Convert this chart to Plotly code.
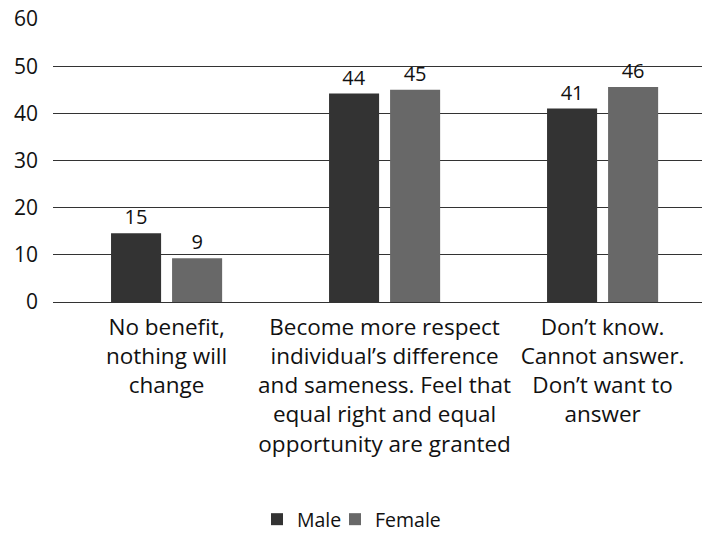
import plotly.graph_objects as go

categories = [
    "No benefit,<br>nothing will<br>change",
    "Become more respect<br>individual’s difference<br>and sameness. Feel that<br>equal right and equal<br>opportunity are granted",
    "Don’t know.<br>Cannot answer.<br>Don’t want to<br>answer",
]
male_values = [14.6, 44.2, 41.0]
female_values = [9.3, 45.0, 45.6]
male_labels = ["15", "44", "41"]
female_labels = ["9", "45", "46"]
y_ticks = [0, 10, 20, 30, 40, 50, 60]

FONT = "Open Sans"

fig = go.Figure()
fig.add_trace(go.Bar(
    name="Male", x=categories, y=male_values, text=male_labels,
    textposition="outside", marker_color="#333333", marker_line_width=0,
    textfont=dict(size=20, color="#111111", family=FONT), cliponaxis=False,
    legend="legend",
))
fig.add_trace(go.Bar(
    name="Female", x=categories, y=female_values, text=female_labels,
    textposition="outside", marker_color="#686868", marker_line_width=0,
    textfont=dict(size=20, color="#111111", family=FONT), cliponaxis=False,
    legend="legend2",
))

legend_common = dict(orientation="h", xref="container", xanchor="left",
                     yref="container", y=0.0, yanchor="bottom",
                     bgcolor="rgba(0,0,0,0)",
                     font=dict(size=19.5, family=FONT), itemwidth=30)

fig.update_layout(
    width=702, height=539,
    margin=dict(l=53, r=0, t=19, b=237),
    paper_bgcolor="white", plot_bgcolor="white",
    barmode="group", bargap=0.44, bargroupgap=0.18,
    font=dict(family=FONT, size=22, color="#111111"),
    showlegend=True,
    legend=dict(x=257 / 702, **legend_common),
    legend2=dict(x=335 / 702, **legend_common),
    xaxis=dict(showgrid=False, showline=False, ticks="", tickangle=0,
               range=[-0.521, 2.456],
               tickfont=dict(size=22.5, family=FONT), ticklabelstandoff=9),
    yaxis=dict(range=[0, 60], tickvals=y_ticks, showgrid=True, gridcolor="#333333",
               gridwidth=1, zeroline=True, zerolinecolor="#333333", zerolinewidth=1,
               showline=False, ticks="", tickfont=dict(size=21, family=FONT),
               ticklabelstandoff=14),
)

fig.write_html("out.html")
